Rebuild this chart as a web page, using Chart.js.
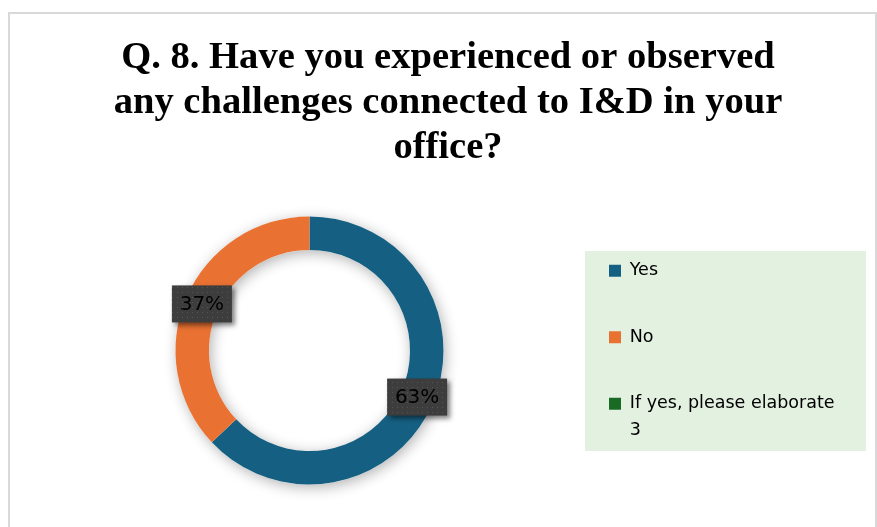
<!DOCTYPE html>
<html>
<head>
<meta charset="utf-8">
<script src="https://cdn.jsdelivr.net/npm/chart.js@4.4.1/dist/chart.umd.min.js"></script>
<style>
  html, body { margin: 0; padding: 0; background: #fff; }
  #frame {
    position: absolute; left: 8px; top: 12px; width: 869px; height: 600px;
    border: 2px solid #d9d9d9; box-sizing: border-box;
  }
  #wrap { position: absolute; left: 0; top: 0; width: 877px; height: 527px; }
</style>
</head>
<body>
<div id="frame"></div>
<div id="wrap"><canvas id="q8Chart"></canvas></div>
<script>
const titleLines = [
  'Q. 8. Have you experienced or observed',
  'any challenges connected to I&D in your',
  'office?'
];
const categories = ['Yes', 'No', ['If yes, please elaborate', '3']];
const shares = [63, 37, 0];
const sliceColors = ['#156082', '#E97132', '#196B24'];

// small dotted tile used to fill the value tags
const dotTile = (() => {
  const c = document.createElement('canvas');
  c.width = 5;
  c.height = 5;
  const g = c.getContext('2d');
  g.fillStyle = '#3d3d3d';
  g.fillRect(0, 0, 5, 5);
  g.fillStyle = '#555555';
  g.fillRect(2, 2, 1, 1);
  return c;
})();

// pale green panel behind the legend entries
const legendPanel = {
  id: 'legendPanel',
  beforeDraw(chart) {
    const boxes = chart.legend && chart.legend.legendHitBoxes;
    if (!boxes || !boxes.length) return;
    const first = boxes[0];
    const last = boxes[boxes.length - 1];
    const left = first.left - 24;
    const top = first.top - 11;
    const right = chart.width - 11;
    const bottom = last.top + last.height + 2;
    const ctx = chart.ctx;
    ctx.save();
    ctx.fillStyle = '#e3f1e1';
    ctx.fillRect(left, top, right - left, bottom - top);
    ctx.restore();
  }
};

// soft drop shadow under the ring
const ringShadow = {
  id: 'ringShadow',
  beforeDatasetsDraw(chart) {
    const arc = chart.getDatasetMeta(0).data[0];
    if (!arc) return;
    const {x, y, outerRadius, innerRadius} = arc.getProps(['x', 'y', 'outerRadius', 'innerRadius'], true);
    const ctx = chart.ctx;
    ctx.save();
    ctx.shadowColor = 'rgba(0, 0, 0, 0.3)';
    ctx.shadowBlur = 14;
    ctx.shadowOffsetX = 2;
    ctx.shadowOffsetY = 3;
    ctx.fillStyle = '#ffffff';
    ctx.beginPath();
    ctx.arc(x, y, outerRadius, 0, Math.PI * 2);
    ctx.arc(x, y, innerRadius, 0, Math.PI * 2, true);
    ctx.fill();
    ctx.restore();
  }
};

// percentage tags sitting on each slice
const valueTags = {
  id: 'valueTags',
  afterDatasetsDraw(chart) {
    const ctx = chart.ctx;
    const meta = chart.getDatasetMeta(0);
    const total = shares.reduce((a, b) => a + b, 0);
    const w = 60, h = 37;
    ctx.save();
    ctx.font = '20px "DejaVu Sans"';
    ctx.textAlign = 'center';
    ctx.textBaseline = 'middle';
    meta.data.forEach((arc, i) => {
      if (!shares[i]) return;
      const {x, y} = arc.tooltipPosition(true);
      ctx.save();
      ctx.shadowColor = 'rgba(0, 0, 0, 0.5)';
      ctx.shadowBlur = 5;
      ctx.shadowOffsetX = 3;
      ctx.shadowOffsetY = 3;
      ctx.fillStyle = ctx.createPattern(dotTile, 'repeat');
      ctx.fillRect(x - w / 2, y - h / 2, w, h);
      ctx.restore();
      ctx.fillStyle = '#000';
      ctx.fillText(Math.round(shares[i] / total * 100) + '%', x, y + 1);
    });
    ctx.restore();
  }
};

new Chart(document.getElementById('q8Chart'), {
  type: 'doughnut',
  data: {
    labels: categories,
    datasets: [{
      data: shares,
      backgroundColor: sliceColors,
      borderWidth: 0,
      hoverOffset: 0,
      radius: 134,
      cutout: '75%'
    }]
  },
  options: {
    responsive: true,
    maintainAspectRatio: false,
    animation: false,
    layout: {
      padding: { left: 59, right: 40, top: 0, bottom: 29 }
    },
    plugins: {
      title: {
        display: true,
        text: titleLines,
        color: '#000',
        font: {
          family: '"Liberation Serif", "Times New Roman", serif',
          size: 38.6,
          weight: 'bold',
          lineHeight: 45 / 38.6
        },
        padding: { top: 36, bottom: 32 }
      },
      legend: {
        position: 'right',
        align: 'end',
        fullSize: false,
        maxWidth: 277,
        labels: {
          boxWidth: 12,
          boxHeight: 12,
          padding: 49,
          color: '#000',
          font: { family: '"DejaVu Sans"', size: 17.5, lineHeight: 27 / 17.5 }
        }
      },
      tooltip: { enabled: false }
    }
  },
  plugins: [legendPanel, ringShadow, valueTags]
});
</script>
</body>
</html>
